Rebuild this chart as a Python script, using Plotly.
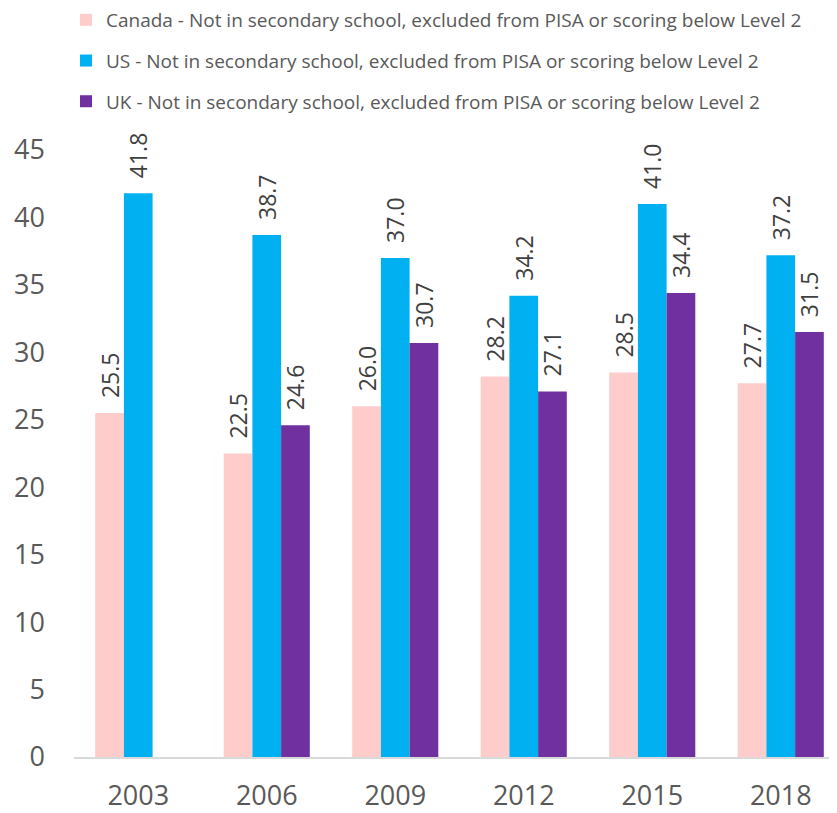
import plotly.graph_objects as go

years = ["2003", "2006", "2009", "2012", "2015", "2018"]
canada = [25.5, 22.5, 26.0, 28.2, 28.5, 27.7]
us = [41.8, 38.7, 37.0, 34.2, 41.0, 37.2]
uk = [None, 24.6, 30.7, 27.1, 34.4, 31.5]

names = [
    "Canada - Not in secondary school, excluded from PISA or scoring below Level 2",
    "US - Not in secondary school, excluded from PISA or scoring below Level 2",
    "UK - Not in secondary school, excluded from PISA or scoring below Level 2",
]
colors = ["#FFCCCC", "#00B0F0", "#7030A0"]
FONT = "Open Sans"
PAD = "\u00a0\u00a0"  # visual gap between bar top and rotated label

fig = go.Figure()
for i, (vals, name, col) in enumerate(zip([canada, us, uk], names, colors)):
    fig.add_trace(go.Bar(
        x=years, y=vals, name=name, marker_color=col,
        marker_line_width=0,
        legendgroup=f"g{i}",
        text=[PAD + f"{v:.1f}" if v is not None else "" for v in vals],
        textposition="outside", textangle=-90, constraintext="none",
        textfont=dict(family=FONT, size=23, color="#404040"),
        cliponaxis=False,
    ))

fig.update_layout(
    width=837, height=813,
    margin=dict(l=66, r=0, t=142, b=64, autoexpand=False),
    paper_bgcolor="white", plot_bgcolor="white",
    barmode="group", bargap=0.33, bargroupgap=0,
    font=dict(family=FONT, color="#595959"),
    showlegend=True,
    legend=dict(
        orientation="v", x=0.0693, y=1.2455, xanchor="left", yanchor="top",
        yref="paper", xref="container",
        font=dict(family=FONT, size=19, color="#595959"),
        tracegroupgap=13, itemwidth=30, borderwidth=0,
    ),
    xaxis=dict(
        type="category", range=[-0.5, 5.5],
        showline=True, linecolor="#D9D9D9", linewidth=2,
        ticks="", tickfont=dict(family=FONT, size=27, color="#595959"),
        showgrid=False, automargin=False, ticklabelstandoff=14,
    ),
    yaxis=dict(
        range=[0, 45], dtick=5, showgrid=False, zeroline=False,
        ticks="", showline=False, automargin=False, ticklabelstandoff=28,
        tickfont=dict(family=FONT, size=27, color="#595959"),
    ),
)

fig.write_html("out.html")
